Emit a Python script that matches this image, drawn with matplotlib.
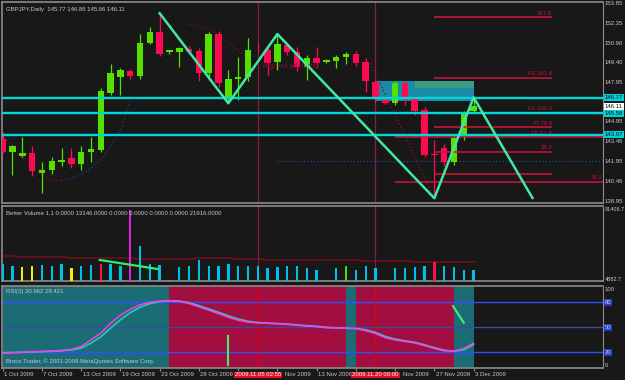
import matplotlib
matplotlib.use('Agg')
from matplotlib import pyplot as plt
from matplotlib.patches import Rectangle
from matplotlib.transforms import blended_transform_factory as blend

W, H = 625, 380
BG = '#181818'
FRAME = '#8c8c8c'
TXT = '#c8c8c8'
FONT = ['Liberation Sans Narrow', 'Liberation Sans', 'DejaVu Sans']
FS = 4.3

# ---- price data (GBPJPY daily, Sunday bars included) ----
dates = ['1 Oct', '2 Oct', '5 Oct', '6 Oct', '7 Oct', '8 Oct', '9 Oct', '12 Oct', '13 Oct', '14 Oct',
         '15 Oct', '16 Oct', '19 Oct', '20 Oct', '21 Oct', '22 Oct', '23 Oct', '25 Oct', '26 Oct', '27 Oct',
         '28 Oct', '29 Oct', '30 Oct', '2 Nov', '3 Nov', '4 Nov', '5 Nov', '6 Nov', '9 Nov', '10 Nov',
         '11 Nov', '12 Nov', '13 Nov', '15 Nov', '16 Nov', '17 Nov', '18 Nov', '19 Nov', '20 Nov', '22 Nov',
         '23 Nov', '24 Nov', '25 Nov', '26 Nov', '27 Nov', '30 Nov', '1 Dec', '2 Dec', '3 Dec']
opens = [143.65, 142.7, 142.4, 142.6, 141.1, 141.3, 141.9, 142.2, 141.75, 142.7,
         142.8, 147.15, 148.3, 148.8, 148.4, 150.9, 151.7, 150.2, 150.25, 150.45,
         150.3, 148.65, 151.6, 146.7, 148.2, 148.3, 150.55, 150.4, 149.5, 150.75,
         150.25, 149.1, 149.8, 149.5, 149.55, 149.85, 150.05, 149.5, 147.95, 146.6,
         146.35, 147.85, 146.65, 145.85, 142.5, 143.0, 141.95, 143.95, 145.77]
highs = [144.2, 143.2, 143.8, 143.15, 141.95, 142.3, 143.0, 143.0, 143.1, 143.8,
         147.5, 149.35, 149.0, 148.95, 151.6, 152.1, 153.15, 150.4, 150.6, 150.7,
         150.5, 151.7, 151.8, 148.85, 149.85, 151.25, 150.9, 150.7, 151.6, 151.0,
         150.6, 150.0, 150.6, 149.7, 150.0, 150.25, 150.3, 149.8, 148.1, 146.7,
         148.0, 148.05, 146.9, 146.1, 143.6, 143.3, 143.9, 145.8, 146.86]
lows = [142.6, 140.9, 142.3, 140.85, 139.6, 141.0, 141.6, 141.5, 141.3, 141.9,
        142.7, 147.0, 147.0, 148.2, 148.2, 150.8, 149.9, 150.1, 149.1, 150.1,
        148.0, 148.1, 147.6, 146.35, 146.6, 148.0, 150.3, 148.5, 148.9, 150.0,
        148.8, 148.1, 149.0, 149.4, 149.0, 149.35, 149.2, 147.2, 146.4, 146.3,
        146.2, 146.2, 145.5, 142.3, 139.2, 141.6, 141.7, 143.6, 145.66]
closes = [142.7, 143.1, 142.6, 141.2, 141.3, 142.0, 142.1, 141.8, 142.7, 142.9,
          147.3, 148.65, 148.85, 148.4, 150.9, 151.7, 150.1, 150.35, 150.5, 150.2,
          148.65, 151.55, 147.85, 148.2, 148.3, 150.4, 150.5, 149.4, 150.8, 150.25,
          149.1, 149.8, 149.4, 149.6, 149.85, 150.05, 149.4, 148.0, 146.7, 146.35,
          147.85, 146.85, 145.8, 142.45, 142.45, 141.95, 143.7, 145.7, 146.11]

# horizontal support / resistance lines and zigzag
cyan_levels = [146.77, 145.58, 143.97]
zz_x = [16, 23, 28, 44, 48, 54]
zz_y = [153.15, 146.35, 151.58, 139.18, 146.8, 139.2]

# fibonacci expansion lines
fib_levels = [152.85, 148.28, 145.62, 144.54, 143.78, 142.70, 141.01, 140.42]
fib_labels = ['261.8', 'FE 161.8', 'FE 100.0', 'Fi 78.6', 'FE 61.8', '38.2', '', '38.2']
fib_start = [44, 44, 44, 44, 40, 44, 44, 40]
fib_end = [56, 56, 56, 56, 61.2, 56, 56, 61.2]
fib_label_x = [56, 56, 56, 56, 56, 56, 56, 61.1]

# dotted indicator traces
sar_dn_x = [0, 1, 2, 3, 4, 5, 6]
sar_dn_y = [144.1, 142.8, 142.2, 141.6, 141.0, 140.6, 140.5]
sar_up_x = [6, 7, 8, 9, 10, 11, 12, 13]
sar_up_y = [140.5, 140.7, 140.95, 141.45, 142.1, 143.1, 144.3, 146.6]
arc_x = [18.8, 20.1, 21.8, 23.5, 24.9]
arc_y = [152.34, 152.19, 151.66, 150.6, 149.85]
diag_x = [37.5, 43.9]
diag_y = [149.37, 139.3]

price_ticks = [153.85, 152.35, 150.90, 149.40, 147.95, 144.95, 143.46, 141.95, 140.46, 138.95]
price_boxes = [146.77, 146.11, 145.58, 143.97]
box_colors = ['#00d0d8', '#ffffff', '#00d0d8', '#00d0d8']

# ---- Better Volume ----
volumes = [21300, 19600, 17900, 18700, 20400, 19600, 21300, 16200, 18700, 20400,
           22100, 21300, 19600, 91000, 45100, 22100, 20400, 900, 17900, 18700,
           26400, 18700, 18700, 21300, 18700, 19600, 19600, 16200, 17900, 18700,
           18700, 17000, 14500, 900, 17000, 18700, 14500, 18700, 16200, 900,
           16200, 16600, 17900, 18700, 23800, 18700, 17900, 14500, 14500]
vol_kind = ['n', 'n', 'y', 'y', 'n', 'n', 'n', 'y', 'n', 'n',
            'r', 'n', 'n', 'm', 'n', 'n', 'n', 'l', 'n', 'n',
            'n', 'n', 'n', 'n', 'n', 'n', 'n', 'n', 'n', 'n',
            'n', 'n', 'n', 'l', 'n', 'g', 'n', 'n', 'n', 'l',
            'n', 'n', 'n', 'n', 'r', 'n', 'n', 'n', 'n']
vol_ma = [31900, 31900, 30600, 30600, 30600, 30600, 30600, 29300, 29300, 29300,
          29300, 29300, 29300, 29300, 28400, 28400, 28400, 28400, 28400, 28400,
          28900, 28900, 28900, 28900, 28050, 28050, 28050, 26400, 26400, 26400,
          26400, 26400, 26400, 26400, 26400, 26400, 26400, 25500, 25500, 25500,
          25500, 25500, 24600, 24600, 24600, 24600, 24600, 24600, 24600]
vol_trend_x = [9.9, 15.8]
vol_trend_y = [26800, 15300]

# ---- RSI(3) ----
rsi = [18.8, 19.5, 20.0, 20.7, 21.0, 21.5, 22.2, 23.5, 27.0, 35.0,
       43.0, 55.0, 64.5, 71.5, 77.0, 80.0, 81.5, 82.0, 81.0, 78.5,
       74.5, 70.5, 66.5, 62.0, 58.5, 56.2, 55.2, 54.8, 54.2, 53.5,
       52.3, 51.5, 50.8, 49.5, 49.2, 48.8, 48.4, 46.0, 42.5, 37.5,
       34.8, 33.0, 31.2, 28.0, 24.5, 21.8, 21.5, 24.5, 30.96]
rsi_sig = [19.5, 19.8, 20.0, 20.4, 20.8, 21.2, 21.8, 22.8, 25.0, 31.0,
           38.5, 49.0, 59.0, 67.5, 74.0, 78.5, 80.8, 81.8, 81.5, 79.5,
           76.0, 72.0, 68.0, 63.8, 60.0, 57.2, 55.8, 55.0, 54.5, 53.9,
           52.9, 51.9, 51.2, 50.0, 49.4, 49.0, 48.6, 47.0, 43.8, 39.0,
           35.8, 33.8, 32.0, 29.0, 25.5, 22.5, 21.3, 23.0, 29.42]
rsi_state = ['u'] * 17 + ['d'] * 18 + ['u'] + ['d'] * 10 + ['u'] * 2
rsi_levels = [80, 50, 20]
rsi_mark1_x = [23.0, 23.0]
rsi_mark1_y = [40.0, 5.2]
rsi_mark2_x = [45.9, 47.0]
rsi_mark2_y = [75.6, 55.5]

cursor_bars = [26, 38]
cursor_labels = ['2009.11.05 02:55', '2009.11.20 00:00']
date_ticks = [0, 4, 8, 12, 16, 20, 24, 28, 32, 36, 40, 44, 48]
date_labels = ['1 Oct 2009', '7 Oct 2009', '13 Oct 2009', '19 Oct 2009', '23 Oct 2009', '28 Oct 2009',
               '', 'Nov 2009', '13 Nov 2009', '', 'Nov 2009', '27 Nov 2009', '3 Dec 2009']
# labels partly hidden behind the cursor boxes start after them
date_label_x = [0, 4, 8, 12, 16, 20, 24, 28.6, 32, 36, 40.7, 44, 48]

BULL = '#55e000'
BEAR = '#ff0a50'
XMIN, XMAX = -0.07, 61.19


def px_axes(fig, left, top, right, bottom):
    return fig.add_axes([left / W, 1 - bottom / H, (right - left) / W, (bottom - top) / H])


def style(ax):
    ax.set_facecolor(BG)
    ax.set_xlim(XMIN, XMAX)
    ax.set_xticks([])
    ax.set_yticks([])
    for side in ['top', 'bottom', 'left']:
        ax.spines[side].set_color(FRAME)
        ax.spines[side].set_linewidth(1.2)
    ax.spines['right'].set_color(FRAME)
    ax.spines['right'].set_linestyle((0, (1, 1)))
    ax.spines['right'].set_linewidth(0.8)


def side_label(ax, y, s, fc=None, color=TXT, size=FS):
    kw = {}
    if fc:
        kw['bbox'] = dict(boxstyle='square,pad=0.15', fc=fc, ec='none')
    ax.text(1.003, y, s, transform=blend(ax.transAxes, ax.transData), ha='left', va='center',
            fontsize=size, color=color, family=FONT, clip_on=False, **kw)


def main():
    fig = plt.figure(figsize=(W / 100, H / 100), dpi=100, facecolor=BG)
    xs = list(range(len(dates)))

    # ---------------- price pane ----------------
    ax = px_axes(fig, 2, 2, 603, 203)
    style(ax)
    ax.set_ylim(138.82, 154.0)

    ax.add_patch(Rectangle((37.9, 146.55), 10.1, 1.5, fc='#1b8aa6', ec='none', zorder=1))
    ax.add_patch(Rectangle((42.0, 147.5), 6.0, 0.55, fc='#3c9c86', ec='none', zorder=1))

    ax.plot(sar_dn_x, sar_dn_y, ls=':', color='#7a0a24', lw=1, zorder=2)
    ax.plot(sar_up_x, sar_up_y, ls=':', color='#1a3a80', lw=1, zorder=2)
    ax.plot(arc_x, arc_y, ls=':', color='#7a0a24', lw=1, zorder=2)
    ax.plot(diag_x, diag_y, ls=':', color='#8a1028', lw=1, zorder=2)
    ax.hlines(142.0, 28, XMAX, colors='#1a4a8a', linestyles=':', lw=0.9, zorder=2)

    for b in cursor_bars:
        ax.axvline(b, color='#8b1a4a', lw=0.9, zorder=2)

    for i in xs:
        up = closes[i] >= opens[i]
        c = BULL if up else BEAR
        ax.vlines(i, lows[i], highs[i], colors=c, lw=0.9, zorder=3)
        body = max(abs(closes[i] - opens[i]), 0.06)
        ax.bar(i, body, bottom=min(opens[i], closes[i]), width=0.66, color=c, zorder=4)

    for lvl, lab, x0, x1, lx in zip(fib_levels, fib_labels, fib_start, fib_end, fib_label_x):
        ax.hlines(lvl, x0, x1, colors='#d0143c', lw=1.1, zorder=5)
        if lab:
            ax.text(lx, lvl + 0.12, lab, ha='right', va='bottom', fontsize=FS, color='#c01038',
                    family=FONT, zorder=5)

    for lvl in cyan_levels:
        ax.axhline(lvl, color='#00d8d8', lw=1.7, zorder=6)

    ax.plot(zz_x, zz_y, color='#40e8a0', lw=1.8, zorder=7)

    ax.text(26.5, 149.1, 'High vol pd cluster', fontsize=FS + 0.6, color='#8a1030', family=FONT,
            ha='left', va='center', zorder=5)
    ax.text(0.006, 0.975, 'GBPJPY,Daily  145.77 146.86 145.66 146.11', transform=ax.transAxes,
            ha='left', va='top', fontsize=FS, color=TXT, family=FONT)

    for p in price_ticks:
        side_label(ax, p, f'{p:.2f}')
    for p, fc in zip(price_boxes, box_colors):
        side_label(ax, p, f'{p:.2f}', fc=fc, color='#101010')

    # ---------------- volume pane ----------------
    axv = px_axes(fig, 2, 206, 603, 281)
    style(axv)
    axv.set_ylim(0, 95625)
    kind_color = {'n': '#00c0e8', 'y': '#f0f000', 'r': '#ff1050', 'm': '#e020e0',
                  'g': '#40e000', 'l': '#7a8a70'}
    axv.bar(xs, volumes, width=0.24, color=[kind_color[k] for k in vol_kind], zorder=3)
    axv.plot(xs, vol_ma, drawstyle='steps-mid', color='#6e0c1c', lw=1.2, zorder=2)
    axv.plot(vol_trend_x, vol_trend_y, color='#30f060', lw=1.6, zorder=4)
    for b in cursor_bars:
        axv.axvline(b, color='#8b1a4a', lw=0.9, zorder=2)
    axv.text(0.006, 0.93, 'Better Volume 1.1 0.0000 13146.0000 0.0000 0.0000 0.0000 0.0000 21916.0000',
             transform=axv.transAxes, ha='left', va='top', fontsize=FS, color=TXT, family=FONT)
    side_label(axv, 91406.7, '91406.7', size=FS - 0.3)
    side_label(axv, 2500, '4882.7', size=FS - 0.3)

    # ---------------- RSI pane ----------------
    axr = px_axes(fig, 2, 286, 603, 368)
    style(axr)
    axr.set_ylim(1.16, 99.56)
    run_start = 0
    for i in range(1, len(rsi_state) + 1):
        if i == len(rsi_state) or rsi_state[i] != rsi_state[run_start]:
            color = '#1c6c76' if rsi_state[run_start] == 'u' else '#a30e40'
            axr.axvspan(run_start, i, color=color, lw=0, zorder=1)
            run_start = i
    for lvl in rsi_levels:
        axr.axhline(lvl, color='#3050ff' if lvl != 50 else '#3a4aa0', lw=1.0, zorder=2)
    for b in cursor_bars:
        axr.axvline(b, color='#e00010', lw=0.9, zorder=2)
    axr.plot(xs, rsi_sig, color='#30c8b0', lw=1.2, zorder=3)
    axr.plot(xs, rsi, color='#f040f0', lw=1.1, zorder=4)
    axr.plot(rsi_mark1_x, rsi_mark1_y, color='#40f070', lw=1.5, zorder=5)
    axr.plot(rsi_mark2_x, rsi_mark2_y, color='#40f070', lw=1.5, zorder=5)
    axr.text(0.006, 0.96, 'RSI(3) 30.962 29.421', transform=axr.transAxes, ha='left', va='top',
             fontsize=FS, color=TXT, family=FONT)
    axr.text(0.006, 0.05, 'Broco Trader, \u00a9 2001-2009 MetaQuotes Software Corp.',
             transform=axr.transAxes, ha='left', va='bottom', fontsize=FS, color=TXT, family=FONT)
    side_label(axr, 95, '100')
    side_label(axr, 4.5, '0')
    for lvl in rsi_levels:
        side_label(axr, lvl, str(lvl), fc='#2040c0', color='#c8c8ff')

    # date axis
    axr.set_xticks(date_ticks)
    axr.tick_params(axis='x', direction='out', length=2.5, color=FRAME, labelbottom=False)
    tb = blend(axr.transData, axr.transAxes)
    for lx, lab in zip(date_label_x, date_labels):
        if lab:
            axr.text(lx + 0.15, -0.085, lab, transform=tb, ha='left', va='center',
                     fontsize=FS, color=TXT, family=FONT, clip_on=False, zorder=3)
    for b, lab in zip(cursor_bars, cursor_labels):
        axr.text(b, -0.085, lab, transform=tb, ha='center', va='center', fontsize=FS,
                 color='#ffffff', family=FONT, clip_on=False, zorder=10,
                 bbox=dict(boxstyle='square,pad=0.15', fc='#e01020', ec='none'))

    fig.savefig('out.png', dpi=100, facecolor=BG)


if __name__ == '__main__':
    main()
